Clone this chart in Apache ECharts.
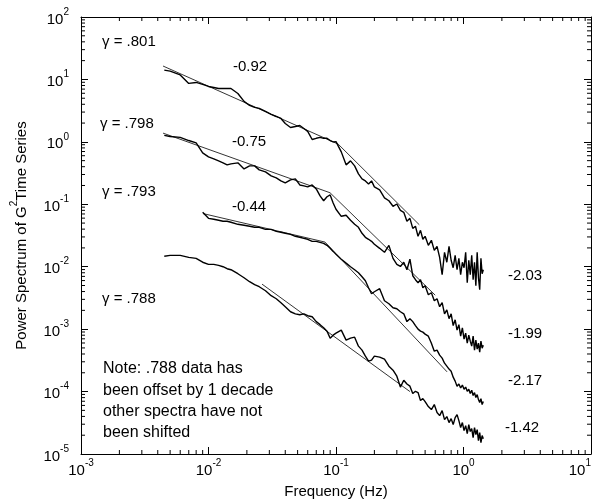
<!DOCTYPE html>
<html>
<head>
<meta charset="utf-8">
<script src="https://cdn.jsdelivr.net/npm/echarts@6/dist/echarts.min.js"></script>
<style>html,body{margin:0;padding:0;background:#fff}#c{width:596px;height:503px}</style>
</head>
<body>
<div id="c"></div>
<script>
const FONT = '"Liberation Sans", Arial, Helvetica, sans-serif';

// Frequencies (Hz) shared by all spectra
const freq = [0.0045,0.005,0.006,0.007,0.008,0.009,0.010,0.011,0.012,0.013,0.014,0.015,
  0.017,0.019,0.021,0.023,0.025,
  0.028,0.031,0.034,0.037,
  0.040,0.044,0.048,0.052,0.056,0.060,
  0.065,0.070,0.075,0.080,0.085,0.090,0.095,0.100,
  0.11,0.12,0.13,0.14,0.15,0.16,0.17,0.18,0.19,0.20,
  0.22,0.24,0.26,0.28,0.30,0.32,0.34,0.36,0.38,0.40,0.42,0.44,0.46,0.48,0.50,
  0.53,0.56,0.59,0.62,0.65,0.68,0.71,0.74,0.77,0.80,0.83,0.86,0.89,0.92,0.95,0.98,
  1.01,1.04,1.07,1.10,1.13,1.16,1.19,1.22,1.25,1.28,1.31,1.34,1.37,1.40,1.43];

// gamma = .801
const p801 = [14.1,13.6,11.8,8.63,8.95,8.32,7.72,7.44,7.17,7.17,7.17,7.17,
  5.96,4.44,3.83,3.56,3.43,
  3.07,2.75,2.55,2.37,
  1.97,1.70,1.76,1.83,1.64,1.47,
  1.09,1.14,1.18,1.14,1.14,1.05,1.00,1.01,
  0.691,0.428,0.496,0.412,0.307,0.255,0.237,0.212,0.237,0.190,
  0.170,0.127,0.114,0.0929,0.101,0.0801,0.0744,0.0534,0.0596,0.0412,0.0444,0.0307,0.0383,0.0275,0.0307,
  0.0220,0.0265,0.0183,0.0212,0.0141,0.00744,0.0170,0.0118,0.0212,0.0127,0.00964,0.0152,0.00895,0.0136,0.00744,0.0118,
  0.00964,0.0170,0.00554,0.0127,0.00744,0.0152,0.00619,0.0118,0.00496,0.0170,0.00666,0.00428,0.0136,0.00772,0.00895];

// gamma = .798
const p798 = [1.27,1.22,1.18,1.05,0.964,0.666,0.575,0.534,0.496,0.461,0.428,0.444,
  0.461,0.369,0.412,0.412,0.356,
  0.330,0.285,0.265,0.237,
  0.220,0.246,0.255,0.204,0.197,0.190,
  0.204,0.176,0.136,0.114,0.132,0.141,0.105,0.0832,
  0.0642,0.0666,0.0554,0.0478,0.0428,0.0343,0.0296,0.0275,0.0255,0.0229,
  0.0197,0.0170,0.0220,0.0136,0.0109,0.0101,0.0118,0.00895,0.0132,0.00717,0.00619,0.00554,0.00619,0.00461,0.00496,
  0.00356,0.00383,0.00285,0.00307,0.00229,0.00265,0.00176,0.00204,0.00147,0.00176,0.00114,0.00141,0.000964,0.00118,0.000772,0.00105,
  0.000691,0.000863,0.000596,0.000801,0.000642,0.000534,0.000772,0.000461,0.000666,0.000478,0.000596,0.000428,0.000642,0.000496,0.000554];

// gamma = .793 (starts at 0.009 Hz)
const p793 = [null,null,null,null,null,0.0744,0.0596,0.0575,0.0554,0.0534,0.0534,0.0515,
  0.0478,0.0461,0.0444,0.0428,0.0428,
  0.0397,0.0397,0.0369,0.0356,
  0.0343,0.0330,0.0307,0.0296,0.0285,0.0275,
  0.0255,0.0255,0.0246,0.0237,0.0220,0.0197,0.0176,0.0158,
  0.0132,0.0114,0.0100,0.00895,0.00801,0.00691,0.00596,0.00461,0.00369,0.00397,
  0.00444,0.00285,0.00255,0.00220,0.00212,0.00190,0.00176,0.00132,0.00147,0.00132,0.00114,0.00100,0.000929,0.000895,0.000832,
  0.000772,0.000596,0.000444,0.000461,0.000383,0.000343,0.000285,0.000255,0.000229,0.000212,0.000170,0.000147,0.000122,0.000132,0.000114,0.000127,
  0.000109,0.000118,0.000101,0.000109,0.0000929,0.000105,0.0000863,0.0000964,0.0000801,0.0000895,0.0000744,0.0000666,0.0000772,0.0000619,0.0000691];

// gamma = .788 (offset by one decade)
const p788 = [0.0147,0.0152,0.0152,0.0141,0.0136,0.0118,0.0109,0.0109,0.0105,0.0100,0.00929,0.00895,
  0.00772,0.00666,0.00575,0.00515,0.00478,
  0.00412,0.00343,0.00307,0.00265,
  0.00229,0.00190,0.00176,0.00170,0.00176,0.00164,
  0.00158,0.00132,0.00118,0.00105,0.000929,0.000717,0.000801,0.000863,
  0.000964,0.000666,0.000717,0.000744,0.000534,0.000461,0.000369,0.000307,0.000319,0.000369,
  0.000356,0.000330,0.000255,0.000220,0.000176,0.000118,0.000152,0.000132,0.000122,0.0000929,0.000101,0.0000964,0.0000717,0.0000772,0.0000691,
  0.0000575,0.0000515,0.0000619,0.0000461,0.0000412,0.0000496,0.0000356,0.0000397,0.0000319,0.0000369,0.0000296,0.0000383,0.0000428,0.0000343,0.0000265,0.0000319,
  0.0000237,0.0000285,0.0000212,0.0000296,0.0000229,0.0000255,0.0000183,0.0000265,0.0000204,0.0000246,0.0000164,0.0000220,0.0000152,0.0000197,0.0000176];

// Power-law fits (frequency, power) at segment ends
const fit801 = [[0.0044, 16.4], [0.104, 0.92], [0.45, 0.047]];
const fit798 = [[0.0044, 1.38], [0.0898, 0.153], [0.6, 0.0035]];
const fit793 = [[0.00906, 0.071], [0.082, 0.0248], [0.743, 0.000207]];
const fit788 = [[0.0263, 0.00526], [0.38, 0.0001]];

const gammaLabels = ['\u03b3 = .801', '\u03b3 = .798', '\u03b3 = .793', '\u03b3 = .788'];
const slopeLabels = ['-0.92', '-0.75', '-0.44', '-2.03', '-1.99', '-2.17', '-1.42'];
const noteLines = ['Note: .788 data has', 'been offset by 1 decade', 'other spectra have not', 'been shifted'];

function pairs(ys) {
  const out = [];
  for (let i = 0; i < freq.length; i++) if (ys[i] != null) out.push([freq[i], ys[i]]);
  return out;
}

const X_MIN = 0.001, X_MAX = 10, Y_MIN = 1e-5, Y_MAX = 100;

function powLabel(v) {
  const e = Math.round(Math.log10(v));
  return '{b|10}{s|' + e + '}';
}
const labelRich = {
  b: { fontSize: 15, fontFamily: FONT, color: '#000', verticalAlign: 'bottom', lineHeight: 20 },
  s: { fontSize: 10, fontFamily: FONT, color: '#000', verticalAlign: 'top', lineHeight: 12 }
};

const dataStyle = { color: '#000', width: 1.4 };
const fitStyle = { color: '#000', width: 0.8 };

function lineSeries(data, style) {
  return { type: 'line', data: data, showSymbol: false, symbol: 'none', lineStyle: style,
           silent: true, animation: false, clip: true, z: 3 };
}

const minorTicks = {
  type: 'custom', silent: true, animation: false, clip: false, z: 5,
  data: [[X_MIN, Y_MIN]],
  renderItem: function (params, api) {
    const ch = [];
    const L = 4;
    const st = { stroke: '#000', lineWidth: 1 };
    for (let d = -3; d < 1; d++) {
      for (let m = 2; m <= 9; m++) {
        const v = m * Math.pow(10, d);
        const b = api.coord([v, Y_MIN]);
        const t = api.coord([v, Y_MAX]);
        ch.push({ type: 'line', shape: { x1: b[0], y1: b[1], x2: b[0], y2: b[1] - L }, style: st });
        ch.push({ type: 'line', shape: { x1: t[0], y1: t[1], x2: t[0], y2: t[1] + L }, style: st });
      }
    }
    for (let d = -5; d < 2; d++) {
      for (let m = 2; m <= 9; m++) {
        const v = m * Math.pow(10, d);
        const l = api.coord([X_MIN, v]);
        const r = api.coord([X_MAX, v]);
        ch.push({ type: 'line', shape: { x1: l[0], y1: l[1], x2: l[0] + L, y2: l[1] }, style: st });
        ch.push({ type: 'line', shape: { x1: r[0], y1: r[1], x2: r[0] - L, y2: r[1] }, style: st });
      }
    }
    return { type: 'group', children: ch };
  }
};

function txt(x, y, s, size) {
  return { type: 'text', x: x, y: y, silent: true, z: 10,
    style: { text: s, fontSize: size, fontFamily: FONT, fill: '#000', align: 'left', verticalAlign: 'middle' } };
}

const graphics = [
  txt(102, 42, gammaLabels[0], 15),
  txt(100, 124, gammaLabels[1], 15),
  txt(102, 192, gammaLabels[2], 15),
  txt(102, 299, gammaLabels[3], 15),
  txt(233, 67, slopeLabels[0], 15),
  txt(232, 142, slopeLabels[1], 15),
  txt(232, 207, slopeLabels[2], 15),
  txt(508, 276, slopeLabels[3], 15),
  txt(508, 334, slopeLabels[4], 15),
  txt(508, 381, slopeLabels[5], 15),
  txt(505, 428, slopeLabels[6], 15),
  txt(103, 369, noteLines[0], 16),
  txt(103, 391, noteLines[1], 16),
  txt(103, 412, noteLines[2], 16),
  txt(103, 433, noteLines[3], 16)
];

const axisLineStyle = { lineStyle: { color: '#000', width: 1 } };
const chart = echarts.init(document.getElementById('c'), null, { renderer: 'canvas' });
chart.setOption({
  animation: false,
  backgroundColor: '#fff',
  grid: { left: 81, right: 5, top: 17, bottom: 49, containLabel: false, outerBoundsMode: 'none' },
  xAxis: [
    { type: 'log', logBase: 10, min: X_MIN, max: X_MAX, splitNumber: 4, position: 'bottom',
      axisLine: axisLineStyle, axisTick: { inside: true, length: 7, lineStyle: { color: '#000' } },
      splitLine: { show: false }, minorTick: { show: false },
      axisLabel: { formatter: powLabel, rich: labelRich, margin: 4, showMinLabel: true, showMaxLabel: true,
                   hideOverlap: false, alignMaxLabel: 'right' },
      name: 'Frequency (Hz)', nameLocation: 'middle', nameGap: 30,
      nameTextStyle: { fontSize: 15, fontFamily: FONT, color: '#000' } },
    { type: 'log', logBase: 10, min: X_MIN, max: X_MAX, splitNumber: 4, position: 'top',
      axisLine: axisLineStyle, axisTick: { inside: true, length: 7, lineStyle: { color: '#000' } },
      splitLine: { show: false }, axisLabel: { show: false } }
  ],
  yAxis: [
    { type: 'log', logBase: 10, min: Y_MIN, max: Y_MAX, splitNumber: 7, position: 'left',
      axisLine: axisLineStyle, axisTick: { inside: true, length: 7, lineStyle: { color: '#000' } },
      splitLine: { show: false },
      axisLabel: { formatter: powLabel, rich: labelRich, margin: 12, showMinLabel: true, showMaxLabel: true },
      name: '{n|Power Spectrum of G}{s|2}{n|Time Series}', nameLocation: 'middle', nameGap: 52, nameRotate: 90,
      nameTextStyle: { fontFamily: FONT, color: '#000',
        rich: { n: { fontSize: 15, fontFamily: FONT, color: '#000', verticalAlign: 'bottom', lineHeight: 20 },
                s: { fontSize: 10, fontFamily: FONT, color: '#000', verticalAlign: 'top', lineHeight: 12 } } } },
    { type: 'log', logBase: 10, min: Y_MIN, max: Y_MAX, splitNumber: 7, position: 'right',
      axisLine: axisLineStyle, axisTick: { inside: true, length: 7, lineStyle: { color: '#000' } },
      splitLine: { show: false }, axisLabel: { show: false } }
  ],
  series: [
    lineSeries(pairs(p801), dataStyle),
    lineSeries(pairs(p798), dataStyle),
    lineSeries(pairs(p793), dataStyle),
    lineSeries(pairs(p788), dataStyle),
    lineSeries(fit801, fitStyle),
    lineSeries(fit798, fitStyle),
    lineSeries(fit793, fitStyle),
    lineSeries(fit788, fitStyle),
    minorTicks
  ],
  graphic: graphics
});
</script>
</body>
</html>
